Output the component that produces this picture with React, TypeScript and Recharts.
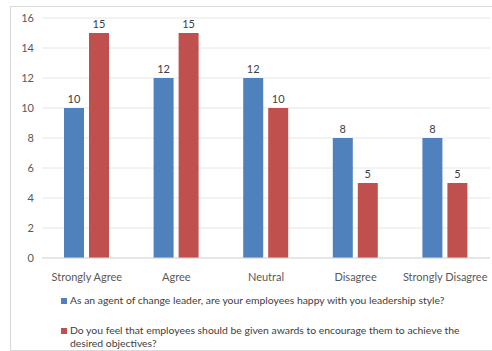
import React from "react";
import {
  BarChart, Bar, XAxis, YAxis, CartesianGrid, Legend, LabelList,
} from "recharts";

const categories = ["Strongly Agree", "Agree", "Neutral", "Disagree", "Strongly Disagree"];
const happyLeadership = [10, 12, 12, 8, 8];
const givenAwards = [15, 15, 10, 5, 5];
const yTicks = [0, 2, 4, 6, 8, 10, 12, 14, 16];

const seriesNames = [
  "As an agent of change leader, are your employees happy with you leadership style?",
  "Do you feel that employees should be given awards to encourage them to achieve the desired objectives?",
];

const data = categories.map((name, i) => ({
  name,
  happy: happyLeadership[i],
  awards: givenAwards[i],
}));

const FONT = "Lato, 'Open Sans', sans-serif";

// legend drawn as two stacked rows, like the Excel original
const renderLegend = (props: any) => {
  const payload = props.payload || [];
  return (
    <div style={{ fontFamily: FONT, fontSize: 10.4, color: "#404040" }}>
      {payload.map((p: any, i: number) => (
        <div
          key={i}
          style={{
            display: "flex",
            alignItems: "flex-start",
            marginLeft: 61,
            marginTop: i === 0 ? 4 : 16,
            lineHeight: "13.5px",
          }}
        >
          <span style={{ width: 6, height: 6, background: p.color, marginTop: 4, marginRight: 3, flex: "none" }} />
          <span style={{ width: 400 }}>{p.value}</span>
        </div>
      ))}
    </div>
  );
};

export default function App() {
  return (
    <div style={{ position: "absolute", left: 0, top: 0, width: 492, height: 351, overflow: "hidden", background: "#fff" }}>
      {/* chart frame */}
      <div style={{ position: "absolute", left: 10, top: 6, width: 500, height: 343, border: "1px solid #d9d9d9" }} />
      <div style={{ position: "absolute", left: 0, top: 0 }}>
        <BarChart
          width={492}
          height={351}
          data={data}
          margin={{ top: 18, right: 2, bottom: 0, left: 0 }}
          barGap={5}
          barCategoryGap={22}
        >
          <CartesianGrid vertical={false} stroke="#e6e6e6" />
          <XAxis
            dataKey="name"
            height={32}
            axisLine={{ stroke: "#d9d9d9" }}
            tickLine={false}
            tickMargin={9}
            interval={0}
            tick={{ fill: "#595959", fontSize: 11, fontFamily: FONT }}
          />
          <YAxis
            width={42}
            domain={[0, 16]}
            ticks={yTicks}
            axisLine={false}
            tickLine={false}
            tick={{ fill: "#595959", fontSize: 11, fontFamily: FONT }}
          />
          <Legend
            verticalAlign="bottom"
            height={61}
            content={renderLegend}
            wrapperStyle={{ left: 0, top: 290, width: 492 }}
          />
          <Bar dataKey="happy" name={seriesNames[0]} fill="#4F81BD" barSize={20} isAnimationActive={false}>
            <LabelList dataKey="happy" position="top" offset={5} fill="#404040" fontSize={11} fontFamily={FONT} />
          </Bar>
          <Bar dataKey="awards" name={seriesNames[1]} fill="#C0504D" barSize={20} isAnimationActive={false}>
            <LabelList dataKey="awards" position="top" offset={5} fill="#404040" fontSize={11} fontFamily={FONT} />
          </Bar>
        </BarChart>
      </div>
    </div>
  );
}
